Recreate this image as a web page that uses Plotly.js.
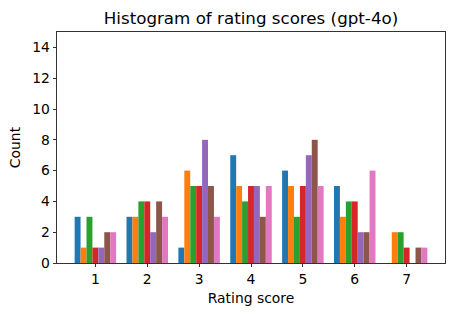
<!DOCTYPE html>
<html>
<head>
<meta charset="utf-8">
<script src="https://cdn.plot.ly/plotly-3.0.1.min.js"></script>
<style>html,body{margin:0;padding:0;background:#fff;}#chart{width:454px;height:316px;}</style>
</head>
<body>
<div id="chart"></div>
<script>
const categories = [1, 2, 3, 4, 5, 6, 7];
const seriesNames = ["Run 1", "Run 2", "Run 3", "Run 4", "Run 5", "Run 6", "Run 7"];
const s1 = [3, 3, 1, 7, 6, 5, 0];
const s2 = [1, 3, 6, 5, 5, 3, 2];
const s3 = [3, 4, 5, 4, 3, 4, 2];
const s4 = [1, 4, 5, 5, 5, 4, 1];
const s5 = [1, 2, 8, 5, 7, 2, 0];
const s6 = [2, 4, 5, 3, 8, 2, 1];
const s7 = [2, 3, 3, 5, 5, 6, 1];
const seriesValues = [s1, s2, s3, s4, s5, s6, s7];
const colors = ["#1f77b4", "#ff7f0e", "#2ca02c", "#d62728", "#9467bd", "#8c564b", "#e377c2"];
const yTicks = [0, 2, 4, 6, 8, 10, 12, 14];

const font = "DejaVu Sans, sans-serif";
const fs = 13.9;
const traces = seriesValues.map((vals, i) => ({
  type: "bar",
  name: seriesNames[i],
  x: categories,
  y: vals,
  marker: {color: colors[i], line: {width: 0}},
  showlegend: false
}));

const layout = {
  width: 454, height: 316,
  margin: {l: 57, r: 9, t: 32, b: 53, pad: 0},
  paper_bgcolor: "#fff", plot_bgcolor: "#fff",
  barmode: "group", bargap: 0.2, bargroupgap: 0,
  font: {family: font, size: fs, color: "#000"},
  title: {text: "Histogram of rating scores (gpt-4o)", font: {family: font, size: 16.7, color: "#000"},
          x: 0.5, xref: "paper", y: 1 - 18/316, yref: "container", yanchor: "middle"},
  xaxis: {
    range: [0.26, 7.74], tickvals: categories, ticktext: categories.map(String),
    ticks: "outside", ticklen: 3.5, tickwidth: 0.8, tickcolor: "#000",
    showline: true, linecolor: "#000", linewidth: 0.8, mirror: true,
    showgrid: false, zeroline: false,
    tickfont: {family: font, size: fs, color: "#000"},
    title: {text: "Rating score", font: {family: font, size: fs, color: "#000"}, standoff: 7}
  },
  yaxis: {
    range: [0, 15], tickvals: yTicks, ticktext: yTicks.map(String),
    ticks: "outside", ticklen: 3.5, tickwidth: 0.8, tickcolor: "#000",
    showline: true, linecolor: "#000", linewidth: 0.8, mirror: true,
    showgrid: false, zeroline: false,
    tickfont: {family: font, size: fs, color: "#000"},
    title: {text: "Count", font: {family: font, size: fs, color: "#000"}, standoff: 8}
  }
};

Plotly.newPlot("chart", traces, layout, {displayModeBar: false, staticPlot: true});
</script>
</body>
</html>
